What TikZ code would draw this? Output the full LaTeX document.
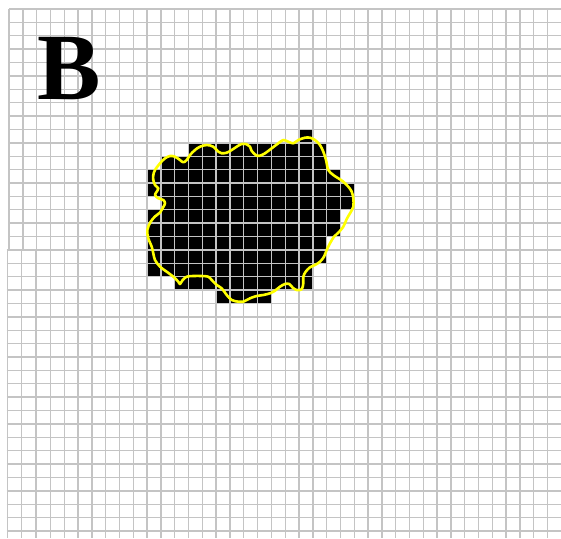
\documentclass[tikz,border=0pt]{standalone}
\usepackage{fontspec}
\setmainfont{Liberation Serif}
\definecolor{gridgray}{RGB}{196,196,196}
\definecolor{outline}{RGB}{255,255,0}
\begin{document}
\begin{tikzpicture}[x=1pt,y=-1pt,
  gridline/.style={draw=gridgray,line width=1.4pt},
  cell/.style={fill=black},
  contour/.style={draw=outline,line width=2.6pt,line join=round}]
\fill[white] (0,0) rectangle (561,538);
\useasboundingbox (0,0) rectangle (561,538);
% black cells
\foreach \r/\a/\b in {9/21/21,10/13/22,11/11/22,12/10/23,13/10/24,14/11/24,15/10/23,16/10/23,17/10/22,18/10/22,19/10/21,20/12/21,21/15/18}
  \path[cell] ({9+13.81*\a},{9+13.385*\r}) rectangle ({9+13.81*(\b+1)},{9+13.385*(\r+1)});
% main grid
\foreach \k in {0,...,40}
  \draw[gridline] ({9+13.81*\k},9) -- ({9+13.81*\k},538);
\foreach \k in {0,...,39}
  \draw[gridline] (9,{9+13.385*\k}) -- (561,{9+13.385*\k});
% lower-left overlay panel
\fill[white] (5,{9+13.385*18+0.8}) rectangle (35.8,538);
\foreach \xx in {7.3,21.3,35.2}
  \draw[gridline] (\xx,{9+13.385*18}) -- (\xx,538);
\foreach \k in {18,...,39}
  \draw[gridline] (6.5,{9+13.385*\k}) -- (36,{9+13.385*\k});
% letter
\node[anchor=base west,inner sep=0pt,font=\fontsize{95}{95}\selectfont\bfseries] (lbl) at (37,99.3) {B};
% yellow contour
\draw[contour] plot[smooth cycle,tension=0.55] coordinates {
(153.3,180) (153.3,175) (155,170) (160,163.3) (165,158.3) (170,156) (175,156.7) (180,160) (183.3,162.3) (186.7,160) (190,155) (195,150) (200,146.7) (206.7,145) (213.3,146.7) (218.3,151.7) (221.7,153.3) (226.7,152.7) (231.7,150) (236.7,146.7) (241.5,144) (246.7,144.3) (250,146.7) (251.7,151) (256.7,155.7) (260,155.7) (265,153.3) (271.7,148.3) (278.3,143.3) (283.3,140) (288.3,141.7) (293.3,143.3) (298.3,140) (305,137.7) (310,137.7) (315,140) (320,145) (323.3,151.7) (326,160) (328.3,170) (333.3,175) (338.3,178.3) (343.3,181.7) (348.3,186.7) (351.7,191.7) (353.3,198.3) (353.3,206.7) (350,213.3) (346.7,219) (343.3,226.7) (338.3,232.7) (334,236.7) (330,243.3) (326.7,250) (324,256.7) (320,261.7) (315,265) (310,267.3) (305.7,271.7) (303.3,276.7) (303.3,283.3) (301.7,289.3) (296.7,290) (292.7,287.7) (289.3,284) (285,284) (280,286.7) (275,290.7) (270,293.3) (263.3,295) (256.7,296) (250,298.3) (243.3,301.7) (238.3,301.7) (231.7,300) (226.7,295) (221.7,288.3) (216.7,285) (211.7,280) (208.3,276.7) (201.7,276) (193.3,276) (186.7,276.7) (182.7,280) (180,284) (178.3,281.7) (173.3,276.7) (166.7,271.7) (160,266.7) (155,260) (153.3,253.3) (151.7,246.7) (148.3,238.3) (147.3,230) (150.5,222) (155,216.5) (160,212.5) (163.3,207) (165,203.3) (163.3,200) (158.3,198.3) (155,195) (156.7,191.7) (158.3,188.3) (155,185)};
\end{tikzpicture}
\end{document}
